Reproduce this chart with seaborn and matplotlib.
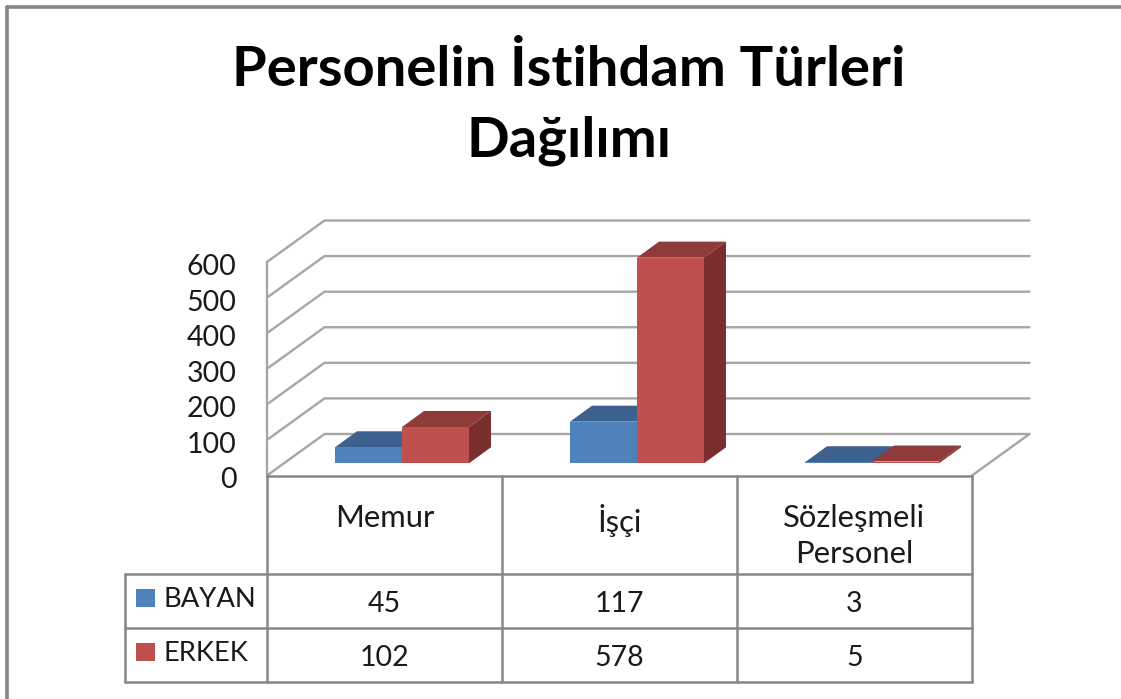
"""
Personelin Istihdam Turleri - 3D column look with data table
"""
# %% Import libraries
import seaborn as sns
import pandas as pd
import matplotlib.pyplot as plt
from matplotlib.patches import Polygon, Rectangle
from matplotlib.transforms import Affine2D

# %% Data
categories = ['Memur', 'İşçi', 'Sözleşmeli\nPersonel']
series_names = ['BAYAN', 'ERKEK']
bayan = [45, 117, 3]
erkek = [102, 578, 5]
y_ticks = [0, 100, 200, 300, 400, 500, 600]
title = 'Personelin İstihdam Türleri\nDağılımı'

# %% Settings (sizes are in pixels of the reference)
W, H = 1121, 699
X0, X1, Y0, Y600 = 267, 972, 475.5, 262
WALL_DX, WALL_DY = 57.5, -41.5
BAR_DX, BAR_DY = 17.5, -12.2
DEPTH_DX, DEPTH_DY = 22, -16
GRID = '#A6A6A6'
LINE = '#868686'
FRONT = ['#4F81BD', '#C0504D']
TOP = ['#3C618E', '#8F3B39']
SIDE = ['#34547C', '#7A2F2E']

sns.set_style('white')
plt.rcParams['font.family'] = ['Lato', 'DejaVu Sans']
plt.rcParams['text.color'] = '#1A1A1A'

df = pd.DataFrame({
    'category': categories * 2,
    'series': [series_names[0]] * 3 + [series_names[1]] * 3,
    'value': bayan + erkek,
})

fig = plt.figure(figsize=(W / 100, H / 100), dpi=100)

# back layer: walls, floor, 3D faces. front layer: frame, table, labels
back = fig.add_axes([0, 0, 1, 1], zorder=0)
front = fig.add_axes([0, 0, 1, 1], zorder=2)
for a in (back, front):
    a.set_xlim(0, W)
    a.set_ylim(H, 0)
    a.axis('off')

ax = fig.add_axes([X0 / W, 1 - Y0 / H, (X1 - X0) / W, (Y0 - Y600) / H], zorder=1)
ax.patch.set_alpha(0)

# %% Bars
sns.barplot(df, x='category', y='value', hue='series', palette=FRONT,
            saturation=1, width=0.57, gap=0, legend=False, ax=ax)
ax.set_xlim(-0.5, 2.5)
ax.set_ylim(0, 600)
ax.set_yticks(y_ticks)
ax.set_xlabel('')
ax.set_ylabel('')
ax.tick_params(axis='y', length=0, pad=22, labelsize=20.5, labelcolor='#1A1A1A')
ax.tick_params(axis='x', length=0, pad=20.5, labelsize=22.3, labelcolor='#1A1A1A')
for label in ax.get_xticklabels():
    label.set_linespacing(1.36)
sns.despine(ax=ax, left=True, bottom=True)
ax.grid(False)
fig.canvas.draw()
for label in ax.get_yticklabels():
    label.set_transform(label.get_transform() + Affine2D().translate(0, -2.5))


def to_px(x, y):
    px, py = ax.transData.transform((x, y))
    return px, H - py


# %% Walls and floor
for t in y_ticks:
    _, y = to_px(0, t)
    back.plot([X0, X0 + WALL_DX, X1 + WALL_DX],
              [y, y + WALL_DY, y + WALL_DY], color=GRID, lw=1.7)
back.plot([X0, X0], [Y600, Y0], color=GRID, lw=1.7)
back.plot([X1, X1 + WALL_DX], [Y0, Y0 + WALL_DY], color=GRID, lw=1.7)

# %% 3D faces
bars = [b for b in ax.patches if b.get_width() > 0]
n = len(categories)
for i, bar in enumerate(bars):
    s = i // n
    bar.set_edgecolor('none')
    bar.set_clip_on(False)
    bar.set_transform(ax.transData + Affine2D().translate(BAR_DX, -BAR_DY))
    xl, yb = to_px(bar.get_x(), 0)
    xr, yt = to_px(bar.get_x() + bar.get_width(), bar.get_height())
    xl, xr = xl + BAR_DX, xr + BAR_DX
    yb, yt = yb + BAR_DY, yt + BAR_DY
    back.add_patch(Polygon([(xl, yt), (xr, yt), (xr + DEPTH_DX, yt + DEPTH_DY),
                            (xl + DEPTH_DX, yt + DEPTH_DY)],
                           facecolor=TOP[s], edgecolor='none', zorder=3 + s))
    back.add_patch(Polygon([(xr, yt), (xr + DEPTH_DX, yt + DEPTH_DY),
                            (xr + DEPTH_DX, yb + DEPTH_DY), (xr, yb)],
                           facecolor=SIDE[s], edgecolor='none', zorder=3 + s))

# %% Data table
rows_y = [574, 628, 682]
cols_x = [X0 + (X1 - X0) * i / n for i in range(n + 1)]
front.plot([X0, X1], [Y0, Y0], color=LINE, lw=1.8)
for x in cols_x:
    front.plot([x, x], [Y0, rows_y[-1]], color=LINE, lw=1.8)
for y in rows_y:
    front.plot([125, X1], [y, y], color=LINE, lw=1.8)
front.plot([125, 125], [rows_y[0], rows_y[-1]], color=LINE, lw=1.8)

for r, (name, values) in enumerate(zip(series_names, [bayan, erkek])):
    yc = (rows_y[r] + rows_y[r + 1]) / 2
    front.add_patch(Rectangle((136, yc - 12.5), 19, 18, facecolor=FRONT[r],
                              edgecolor='none'))
    front.text(164, yc - 1.5, name, fontsize=19.7, ha='left', va='center')
    for c, v in enumerate(values):
        front.text(cols_x[c] + (X1 - X0) / n / 2, yc + 2.5, str(v), fontsize=20.5,
                   ha='center', va='center')

# %% Frame and title
front.plot([7, 7], [H, 7], color=LINE, lw=2.6)
front.plot([7, W], [7, 7], color=LINE, lw=2.6)
front.text(569, 105, title, fontsize=40.5, fontweight='bold', color='black',
           ha='center', va='center', linespacing=1.5)

fig.savefig('out.png', dpi=100)
